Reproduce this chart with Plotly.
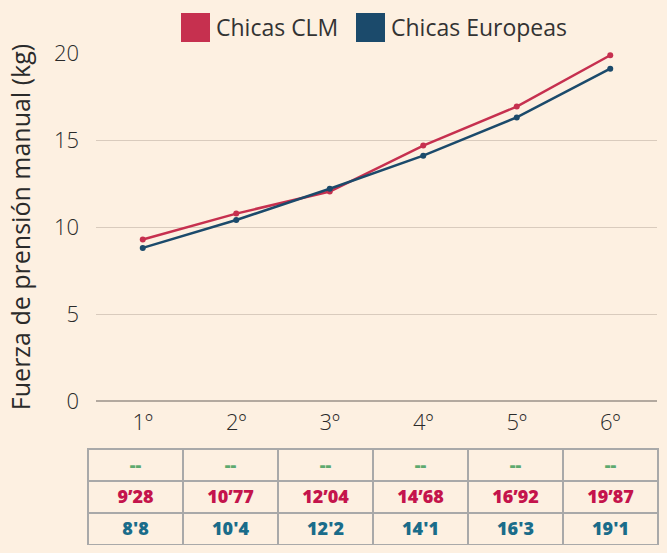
import plotly.graph_objects as go

categories = ["1º", "2º", "3º", "4º", "5º", "6º"]
clm_values = [9.28, 10.77, 12.04, 14.68, 16.92, 19.87]
eur_values = [8.8, 10.4, 12.2, 14.1, 16.3, 19.1]
row_top = ["--", "--", "--", "--", "--", "--"]
clm_labels = ["9’28", "10’77", "12’04", "14’68", "16’92", "19’87"]
eur_labels = ["8'8", "10'4", "12'2", "14'1", "16'3", "19'1"]
y_ticks = [0, 5, 10, 15, 20]

BG = "#FDF0E1"
CLM_COLOR = "#C6304F"
EUR_COLOR = "#1B4A6B"

W, H = 667, 553
ML, MR, MT, MB = 88, 9, 53, 8
PW, PH = W - ML - MR, H - MT - MB

def px_x(p):
    return (p - ML) / PW

def px_y(p):
    return (H - MB - p) / PH

fig = go.Figure()
fig.add_trace(go.Scatter(x=categories, y=clm_values, mode="lines+markers",
                         line=dict(color=CLM_COLOR, width=2.5),
                         marker=dict(size=6, color=CLM_COLOR),
                         showlegend=False, cliponaxis=False))
fig.add_trace(go.Scatter(x=categories, y=eur_values, mode="lines+markers",
                         line=dict(color=EUR_COLOR, width=2.5),
                         marker=dict(size=6, color=EUR_COLOR),
                         showlegend=False, cliponaxis=False))

fig.add_trace(go.Table(
    domain=dict(x=[0, 1], y=[0, px_y(449)]),
    columnwidth=[1] * 6,
    header=dict(values=row_top, height=32, align="center",
                fill_color=BG, line=dict(color="#A9A9A9", width=2),
                font=dict(family="Open Sans", size=18, color="#5DAA6F", weight=800)),
    cells=dict(values=[[c, e] for c, e in zip(clm_labels, eur_labels)],
               height=32, align="center",
               fill_color=BG, line=dict(color="#A9A9A9", width=2),
               font=dict(family="Open Sans", size=18,
                         color=[["#C4144C", "#1A6C8A"]] * 6, weight=800)),
))

# legend drawn manually with square swatches
for x0, x1, col, label, tx in [(181, 210, CLM_COLOR, "Chicas CLM", 214),
                               (356, 385, EUR_COLOR, "Chicas Europeas", 389)]:
    fig.add_shape(type="rect", xref="paper", yref="paper",
                  x0=px_x(x0), x1=px_x(x1), y0=px_y(42), y1=px_y(13),
                  fillcolor=col, line=dict(width=0))
    fig.add_annotation(text=label, xref="paper", yref="paper",
                       x=px_x(tx), y=px_y(27), xanchor="left", yanchor="middle",
                       showarrow=False,
                       font=dict(family="Open Sans", size=23, color="#333333"))

fig.update_layout(
    width=W, height=H,
    margin=dict(l=ML, r=MR, t=MT, b=MB, autoexpand=False),
    paper_bgcolor=BG, plot_bgcolor=BG,
    font=dict(family="Open Sans", color="#333333"),
    xaxis=dict(domain=[px_x(96), px_x(657)], type="category",
               range=[-0.5, 5.5], showgrid=False, zeroline=False,
               showline=False, ticks="", automargin=False,
               ticklabelstandoff=6,
               tickfont=dict(size=22, color="#2A2A2A", weight=300)),
    yaxis=dict(domain=[px_y(401), 1], range=[0, 20], tickvals=y_ticks,
               showgrid=True, gridcolor="#D9CBBD", gridwidth=1,
               zeroline=True, zerolinecolor="#B3A99F", zerolinewidth=2,
               ticks="", ticklabelstandoff=16, automargin=False,
               tickfont=dict(size=22, color="#2A2A2A", weight=300),
               title=dict(text="Fuerza de prensión manual (kg)",
                          font=dict(size=25, color="#2A2A2A"), standoff=16)),
)

fig.write_html("out.html",
               config={"displayModeBar": False},
               post_script="document.body.style.margin='0';document.body.style.background='" + BG + "';")
